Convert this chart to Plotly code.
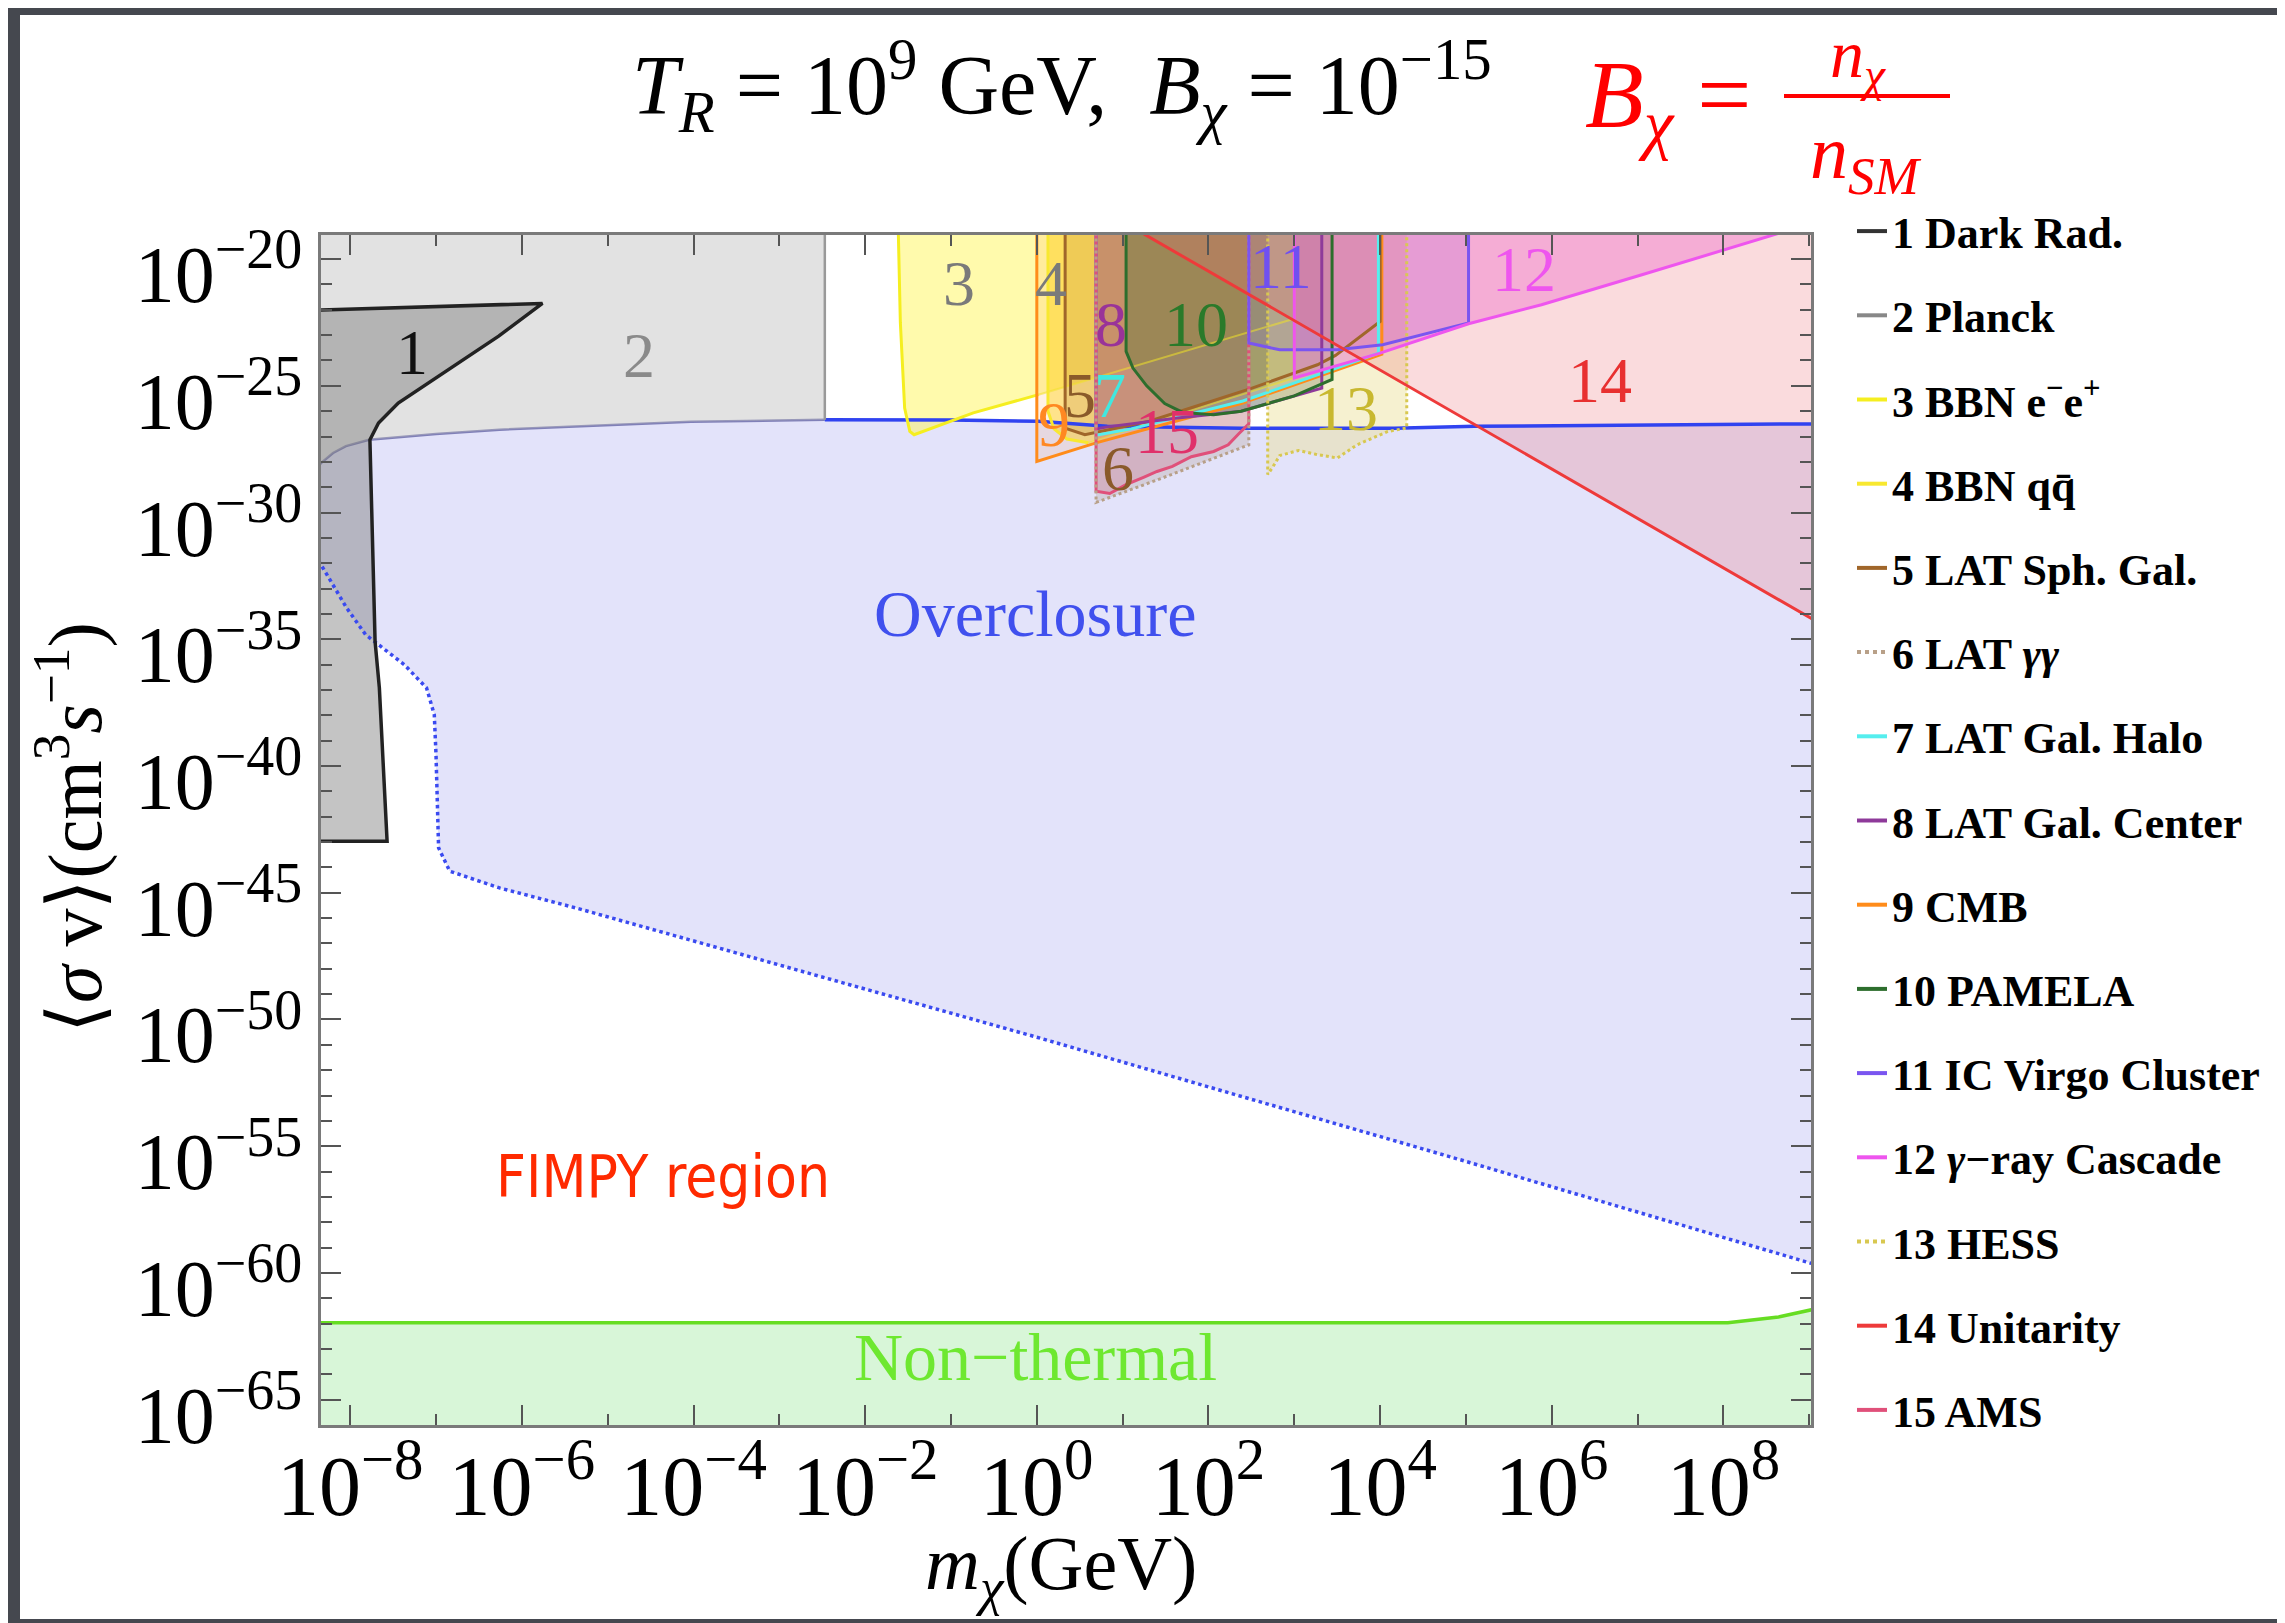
import numpy as np
import plotly.graph_objects as go

# ---------------- data: log10(m_chi / GeV) and log10(<sigma v> / cm^3 s^-1) ----------------
x_tick_exps = [-8, -6, -4, -2, 0, 2, 4, 6, 8]
y_tick_exps = [-20, -25, -30, -35, -40, -45, -50, -55, -60, -65]
x_minor_exps = list(range(-8, 10))
y_minor_exps = list(range(-66, -18))

# overclosure boundary (upper edge of the lavender band)
oc_m = [-8.5, -8.34, -8.2, -8.05, -7.78, -7.0, -6.26, -5.0, -4.03, -2.47, -1.0, 0.02, 0.82, 2.38, 4.17, 5.1, 7.0, 9.1]
oc_sv = [-28.6, -28.05, -27.65, -27.38, -27.13, -26.9, -26.73, -26.55, -26.42, -26.34, -26.35, -26.4, -26.6, -26.67, -26.67, -26.6, -26.55, -26.5]
# dotted lower boundary of the lavender band
dot_m = [-8.5, -8.34, -8.04, -7.82, -7.37, -7.11, -7.02, -7.0, -6.97, -6.84, -6.26, -5.37, 0.0, 5.0, 9.1]
dot_sv = [-31.2, -32.06, -33.77, -34.82, -36.0, -36.92, -37.98, -39.55, -43.23, -44.15, -44.81, -45.6, -50.7, -55.6, -59.7]
# non-thermal boundary
nt_m = [-8.5, 8.05, 8.64, 9.1]
nt_sv = [-61.97, -61.97, -61.74, -61.4]

# constraint regions
planck_m = [-8.5, -2.47, -2.47, -4.03, -5.0, -6.26, -7.0, -7.78, -8.05, -8.2, -8.34, -8.5]
planck_sv = [-18.0, -18.0, -26.34, -26.42, -26.55, -26.73, -26.9, -27.13, -27.38, -27.65, -28.05, -28.6]
r1_m = [-8.5, -5.76, -6.27, -6.86, -7.44, -7.67, -7.77, -7.71, -7.66, -7.57, -8.5]
r1_sv = [-22.02, -21.75, -23.04, -24.37, -25.68, -26.47, -27.13, -35.08, -36.92, -42.97, -42.97]
r3_m = [-1.62, -1.59, -1.54, -1.48, -1.43, -0.74, 0.02, 3.0, 3.0]
r3_sv = [-18.0, -22.5, -25.88, -26.8, -26.93, -26.07, -25.35, -22.35, -18.0]
r4_m = [0.13, 0.13, 0.2, 0.35, 0.6, 1.64, 3.0, 3.0]
r4_sv = [-18.0, -26.0, -26.7, -27.1, -27.25, -26.14, -24.69, -18.0]
r9_m = [0.0, 0.0, 0.69, 2.38, 4.02, 4.02]
r9_sv = [-18.0, -27.98, -27.25, -25.7, -23.75, -18.0]
r5_m = [0.33, 0.33, 0.56, 1.31, 2.5, 3.27, 3.48, 4.0, 4.0]
r5_sv = [-18.0, -26.67, -26.93, -26.4, -25.1, -24.17, -23.8, -22.46, -18.0]
r7_m = [0.69, 0.69, 1.1, 2.4, 3.17, 3.98, 3.98]
r7_sv = [-18.0, -26.95, -26.7, -25.6, -24.69, -23.71, -18.0]
r8_m = [0.69, 0.69, 0.82, 1.64, 2.38, 3.32, 3.32]
r8_sv = [-18.0, -26.7, -26.62, -26.27, -26.0, -25.09, -18.0]
r15_m = [0.69, 0.69, 0.85, 1.04, 1.25, 1.4, 1.58, 1.8, 2.06, 2.23, 2.35, 2.47, 2.47]
r15_sv = [-18.0, -29.16, -29.25, -28.9, -28.6, -28.38, -28.18, -27.8, -27.59, -27.33, -26.9, -26.5, -18.0]
r6_m = [0.69, 0.69, 1.46, 2.47, 2.47]
r6_sv = [-18.0, -29.6, -28.64, -27.33, -18.0]
r10_m = [1.04, 1.04, 1.12, 1.28, 1.49, 1.7, 2.06, 2.38, 3.0, 3.32, 3.44, 3.44]
r10_sv = [-18.0, -23.64, -24.3, -25.0, -25.7, -26.05, -26.14, -26.0, -25.4, -24.95, -24.75, -18.0]
r13_m = [2.69, 2.69, 2.75, 2.83, 3.05, 3.25, 3.5, 3.73, 4.09, 4.31, 4.31]
r13_sv = [-18.0, -28.5, -28.2, -27.75, -27.55, -27.7, -27.85, -27.33, -26.8, -26.67, -18.0]
r11_m = [2.47, 2.47, 2.83, 3.5, 4.03, 5.03, 5.03]
r11_sv = [-18.0, -23.31, -23.58, -23.58, -23.38, -22.52, -18.0]
r12_m = [3.0, 3.0, 3.99, 5.03, 5.88, 7.05, 9.6]
r12_sv = [-18.0, -24.69, -23.72, -22.55, -21.8, -20.62, -18.0]
r14_m = [0.73, 9.1, 9.1]
r14_sv = [-18.0, -34.33, -18.0]

# region number labels
lbl_text = ["1", "2", "3", "4", "5", "6", "7", "8", "9", "10", "11", "12", "13", "14", "15"]
lbl_m = [-7.28, -4.64, -0.91, 0.17, 0.5, 0.95, 0.85, 0.87, 0.2, 1.85, 2.85, 5.68, 3.6, 6.56, 1.52]
lbl_sv = [-23.7, -23.8, -20.95, -20.95, -25.38, -28.25, -25.38, -22.6, -26.54, -22.6, -20.28, -20.43, -25.9, -24.8, -26.8]

legend_names = ["1 Dark Rad.", "2 Planck", "3 BBN e<sup>−</sup>e<sup>+</sup>", "4 BBN qq\u0304",
                "5 LAT Sph. Gal.", "6 LAT <i>γγ</i>", "7 LAT Gal. Halo", "8 LAT Gal. Center",
                "9 CMB", "10 PAMELA", "11 IC Virgo Cluster", "12 <i>γ</i>−ray Cascade",
                "13 HESS", "14 Unitarity", "15 AMS"]

# ---------------- styles ----------------
line_col = ['#333333', '#888888', '#f5ee20', '#f8e830', '#a0662a', '#b8a088', '#55eeee', '#8e3a9a',
            '#ff8c1a', '#2d6e2d', '#7a55f0', '#ee55ee', '#d8c850', '#ee3a3a', '#e0507a']
line_dash = ['solid'] * 5 + ['dot'] + ['solid'] * 6 + ['dot'] + ['solid'] * 2
lbl_col = ['#111111', '#8a8a8a', '#7a7a7a', '#7a7a7a', '#8a5a2a', '#8a5a2a', '#40e8e0', '#993399',
           '#ff8822', '#2a7a2a', '#7050f0', '#ee55ee', '#c8b830', '#e83030', '#e0306a']

P = lambda a: np.power(10.0, np.asarray(a, dtype=float))

fig = go.Figure()


def add_fill(m, sv, color):
    fig.add_trace(go.Scatter(x=P(m), y=P(sv), mode='lines', fill='toself', fillcolor=color,
                             line=dict(width=0, color=color), hoverinfo='skip', showlegend=False))


def add_line(m, sv, color, width=3.0, dash='solid', close=False):
    m = list(m); sv = list(sv)
    if close:
        m = m + m[:1]; sv = sv + sv[:1]
    fig.add_trace(go.Scatter(x=P(m), y=P(sv), mode='lines', line=dict(color=color, width=width, dash=dash),
                             hoverinfo='skip', showlegend=False))


# base areas
add_fill(oc_m + dot_m[::-1], oc_sv + dot_sv[::-1], 'rgb(227,227,250)')
add_fill(nt_m + [9.1, -8.5], nt_sv + [-67.0, -67.0], 'rgb(216,246,216)')
add_line(oc_m[:10], oc_sv[:10], '#8080b8', 2.5)
add_fill(planck_m, planck_sv, 'rgba(185,185,185,0.42)')
add_fill(r1_m, r1_sv, 'rgba(125,125,125,0.45)')

regions = [
    (r3_m, r3_sv, 'rgba(255,245,90,0.5)', 2),
    (r4_m, r4_sv, 'rgba(255,215,0,0.40)', 3),
    (r9_m, r9_sv, 'rgba(255,140,40,0.12)', 8),
    (r5_m, r5_sv, 'rgba(160,100,40,0.17)', 4),
    (r7_m, r7_sv, 'rgba(60,230,230,0.08)', 6),
    (r8_m, r8_sv, 'rgba(150,50,150,0.2)', 7),
    (r15_m, r15_sv, 'rgba(220,50,100,0.2)', 14),
    (r6_m, r6_sv, 'rgba(160,130,110,0.22)', 5),
    (r10_m, r10_sv, 'rgba(30,110,30,0.26)', 9),
    (r13_m, r13_sv, 'rgba(235,225,150,0.45)', 12),
    (r11_m, r11_sv, 'rgba(110,80,240,0.2)', 10),
    (r12_m, r12_sv, 'rgba(235,80,225,0.35)', 11),
    (r14_m, r14_sv, 'rgba(235,110,120,0.25)', 13),
]
for m, sv, fc, k in regions:
    add_fill(m, sv, fc)

# overclosure and lower dotted boundary, non-thermal line
add_line(oc_m[9:], oc_sv[9:], '#3043f0', 3.5)
add_line(dot_m, dot_sv, '#3a4af0', 3.5, 'dot')
add_line(nt_m, nt_sv, '#66dd22', 3.5)

# outlines
add_line(r1_m, r1_sv, '#222222', 3.5, close=True)
add_line(planck_m[1:3], planck_sv[1:3], '#999999', 2.5)
for m, sv, fc, k in regions:
    if k in (2, 3):
        # BBN: strong left/bottom edge, faint rising continuation
        cut = 7 if k == 2 else 5
        add_line(m[:cut], sv[:cut], line_col[k], 3.0)
        add_line(m[cut - 1:], sv[cut - 1:], 'rgba(240,225,40,0.55)', 2.0)
    else:
        add_line(m, sv, line_col[k], 3.0, line_dash[k], close=True)

# legend-only entries
for i, name in enumerate(legend_names):
    fig.add_trace(go.Scatter(x=[None], y=[None], mode='lines', name=name, legendgroup='g%d' % i,
                             line=dict(color=line_col[i], width=4, dash=line_dash[i])))

ann = []
for t, m, sv, c in zip(lbl_text, lbl_m, lbl_sv, lbl_col):
    ann.append(dict(x=m, y=sv, xref='x', yref='y', text=t, showarrow=False,
                    font=dict(family='Liberation Serif', size=64, color=c)))
ann.append(dict(x=-0.016, y=-34.0, xref='x', yref='y', text='Overclosure', showarrow=False,
                font=dict(family='Liberation Serif', size=66, color='#4050ee')))
ann.append(dict(x=-0.016, y=-63.3, xref='x', yref='y', text='Non−thermal', showarrow=False,
                font=dict(family='Liberation Serif', size=68, color='#6ee830')))
ann.append(dict(x=-4.36, y=-56.2, xref='x', yref='y', text='FIMPY region', showarrow=False,
                font=dict(family='DejaVu Sans Condensed, DejaVu Sans', size=58, color='#ff2a00')))


def px(xp):
    return (xp - 313) / 1490.0


def py(yp):
    return (1417 - yp) / 1190.0


ann.append(dict(x=px(622), y=py(78), xref='paper', yref='paper', xanchor='left', yanchor='middle',
                text='<i>T</i><sub><i>R</i></sub> = 10<sup>9</sup> GeV,  <i>B</i><sub><i>χ</i></sub> = 10<sup>−15</sup>',
                showarrow=False, font=dict(family='Liberation Serif', size=84, color='black')))
ann.append(dict(x=px(1745), y=py(94), xref='paper', yref='paper', xanchor='right', yanchor='middle',
                text='<i>B</i><sub><i>χ</i></sub> =', showarrow=False,
                font=dict(family='Liberation Serif', size=96, color='#ff0000')))
ann.append(dict(x=px(1850), y=py(50), xref='paper', yref='paper', xanchor='center', yanchor='middle',
                text='<i>n</i><sub><i>χ</i></sub>', showarrow=False,
                font=dict(family='Liberation Serif', size=68, color='#ff0000')))
ann.append(dict(x=px(1858), y=py(150), xref='paper', yref='paper', xanchor='center', yanchor='middle',
                text='<i>n</i><sub><i>SM</i></sub>', showarrow=False,
                font=dict(family='Liberation Serif', size=76, color='#ff0000')))
ann.append(dict(x=px(62), y=py(820), xref='paper', yref='paper', xanchor='center', yanchor='middle',
                text='⟨<i>σ</i> v⟩(cm<sup>3</sup><i>s</i><sup>−1</sup>)', textangle=-90, showarrow=False,
                font=dict(family='Liberation Serif', size=76, color='black')))
ann.append(dict(x=px(1053), y=py(1561), xref='paper', yref='paper', xanchor='center', yanchor='middle',
                text='<i>m</i><sub><i>χ</i></sub>(GeV)', showarrow=False,
                font=dict(family='Liberation Serif', size=76, color='black')))

shapes = [
    dict(type='rect', xref='paper', yref='paper', x0=px(12), x1=px(2274), y0=py(1611), y1=py(7),
         fillcolor='white', line=dict(width=0), layer='below'),
    dict(type='line', xref='paper', yref='paper', x0=px(1776), x1=px(1942), y0=py(88), y1=py(88),
         line=dict(color='#ff0000', width=4)),
]


def sup(e):
    return '10<sup>%s</sup>' % (str(e).replace('-', '−'))


axis_common = dict(type='log', showline=True, linecolor='#7a7a7a', linewidth=2.5, mirror='allticks',
                   ticks='inside', ticklen=20, tickwidth=2, tickcolor='#555555', showgrid=False, zeroline=False)

fig.update_layout(
    width=2285, height=1623, autosize=False,
    margin=dict(l=313, r=482, t=227, b=206),
    paper_bgcolor='#45484f', plot_bgcolor='white',
    showlegend=True,
    legend=dict(x=px(1844), y=py(188), xanchor='left', yanchor='top', traceorder='grouped',
                tracegroupgap=24, bgcolor='rgba(0,0,0,0)', maxheight=1500,
                font=dict(family='Liberation Serif', size=44, color='black', weight='bold')),
    xaxis=dict(range=[-8.34, 9.02], tickvals=list(P(x_tick_exps)), ticktext=[sup(e) for e in x_tick_exps],
               tickfont=dict(family='Liberation Serif', size=84, color='black'), ticklabelstandoff=-14,
               minor=dict(tickvals=list(P(x_minor_exps)), ticklen=11, tickwidth=2, tickcolor='#555555',
                          ticks='inside', showgrid=False),
               **axis_common),
    yaxis=dict(range=[-66.0, -19.05], tickvals=list(P(y_tick_exps)), ticktext=[sup(e) for e in y_tick_exps],
               tickfont=dict(family='Liberation Serif', size=80, color='black'), ticklabelshift=15,
               minor=dict(tickvals=list(P(y_minor_exps)), ticklen=11, tickwidth=2, tickcolor='#555555',
                          ticks='inside', showgrid=False),
               **axis_common),
    annotations=ann,
    shapes=shapes,
)

fig.write_html("out.html")
